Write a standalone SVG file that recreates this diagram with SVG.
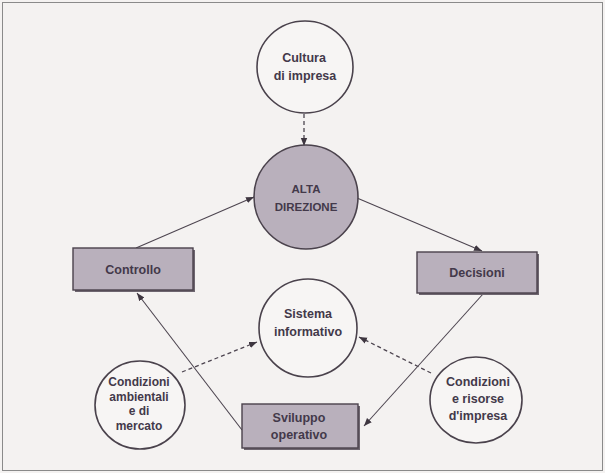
<svg xmlns="http://www.w3.org/2000/svg" width="605" height="473" viewBox="0 0 605 473">
<style>
.bg{fill:#f4f2f1}
.frame{fill:none;stroke:#8a8a8a;stroke-width:1}
.circ{fill:#f7f5f4;stroke:#4a424c;stroke-width:1.6}
.dark{fill:#b9b0bc;stroke:#4a424c;stroke-width:1.6}
.box{fill:#b9b0bc;stroke:#4a424c;stroke-width:1.4}
.shadow{fill:#6e6670}
.lbl{font-family:"Liberation Sans",Arial,sans-serif;font-weight:700;font-size:12.5px;fill:#43394a;text-anchor:middle}
.cap{font-size:11.5px}
.sm{font-size:12px}
.solid{fill:none;stroke:#4d4550;stroke-width:1.1}
.dash{fill:none;stroke:#4d4550;stroke-width:1.3;stroke-dasharray:4 3}
</style>
<defs>
<marker id="ah" viewBox="0 0 10 10" refX="10" refY="5" markerWidth="8" markerHeight="8" markerUnits="userSpaceOnUse" orient="auto">
<path d="M0,1 L10,5 L0,9 Z" fill="#3e3640"/>
</marker>
</defs>
<rect class="bg" x="0" y="0" width="605" height="473"/>
<rect class="frame" x="2.5" y="2.5" width="600" height="468"/>

<g id="connectors">
<line class="dash" x1="304" y1="114" x2="304" y2="146" marker-end="url(#ah)"/>
<line class="solid" x1="136" y1="248" x2="254" y2="197" marker-end="url(#ah)"/>
<line class="solid" x1="357" y1="198" x2="482" y2="251" marker-end="url(#ah)"/>
<line class="solid" x1="483" y1="294" x2="364" y2="426" marker-end="url(#ah)"/>
<line class="solid" x1="242" y1="430" x2="137" y2="293" marker-end="url(#ah)"/>
<line class="dash" x1="182" y1="372" x2="257" y2="342" marker-end="url(#ah)"/>
<line class="dash" x1="431" y1="373" x2="359" y2="337" marker-end="url(#ah)"/>
</g>

<g id="cultura">
<ellipse class="circ" cx="305" cy="67" rx="48" ry="46"/>
<text class="lbl" x="304" y="62">Cultura</text>
<text class="lbl" x="305" y="80">di impresa</text>
</g>

<g id="alta-direzione">
<circle class="dark" cx="306" cy="197" r="52"/>
<text class="lbl cap" x="306" y="193">ALTA</text>
<text class="lbl cap" x="306" y="211">DIREZIONE</text>
</g>

<g id="controllo">
<rect class="shadow" x="75" y="250" width="120" height="42"/>
<rect class="box" x="73" y="248" width="120" height="42"/>
<text class="lbl" x="133" y="274">Controllo</text>
</g>

<g id="decisioni">
<rect class="shadow" x="419" y="254" width="120" height="41"/>
<rect class="box" x="417" y="252" width="120" height="41"/>
<text class="lbl" x="477" y="277">Decisioni</text>
</g>

<g id="sistema-informativo">
<circle class="circ" cx="308" cy="328" r="49"/>
<text class="lbl" x="308" y="318">Sistema</text>
<text class="lbl" x="308" y="336">informativo</text>
</g>

<g id="condizioni-ambientali">
<ellipse class="circ" cx="140" cy="405" rx="45" ry="44"/>
<text class="lbl sm" x="139" y="386">Condizioni</text>
<text class="lbl sm" x="139" y="401">ambientali</text>
<text class="lbl sm" x="139" y="415">e di</text>
<text class="lbl sm" x="139" y="430">mercato</text>
</g>

<g id="condizioni-risorse">
<ellipse class="circ" cx="476" cy="400" rx="46" ry="43"/>
<text class="lbl" x="478" y="386">Condizioni</text>
<text class="lbl" x="478" y="403">e risorse</text>
<text class="lbl" x="478" y="420">d'impresa</text>
</g>

<g id="sviluppo-operativo">
<rect class="shadow" x="244" y="406" width="116" height="44"/>
<rect class="box" x="242" y="404" width="116" height="44"/>
<text class="lbl" x="299" y="422">Sviluppo</text>
<text class="lbl" x="299" y="439">operativo</text>
</g>
</svg>
